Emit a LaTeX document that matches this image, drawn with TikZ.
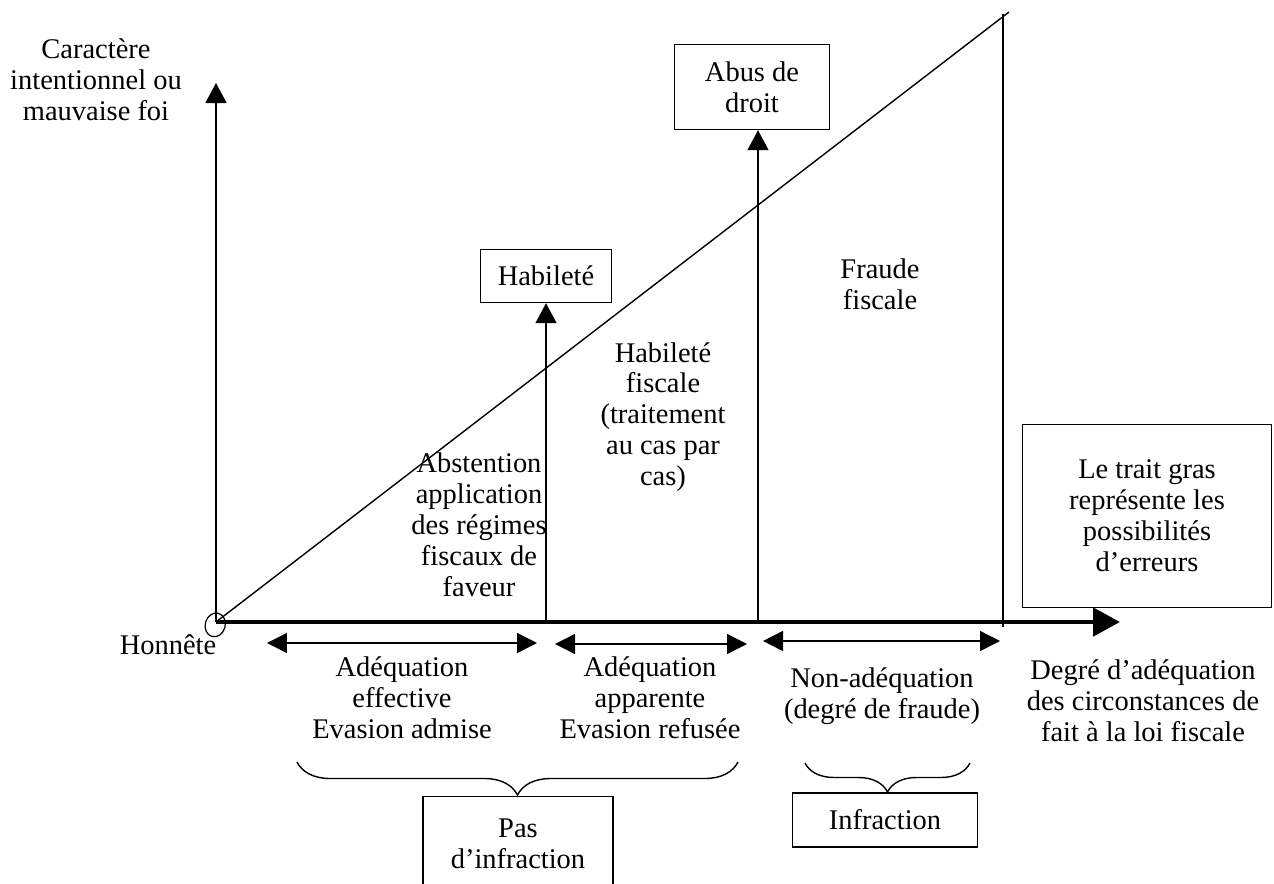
\documentclass[tikz,border=0pt]{standalone}
\usepackage{fontspec}
\setmainfont{Liberation Serif}
\usetikzlibrary{arrows.meta}
\usetikzlibrary{positioning}
\usetikzlibrary{decorations.pathreplacing}

\begin{document}
\begin{tikzpicture}[x=0.02cm, y=-0.02cm,
  font=\fontsize{16.2}{17.6}\selectfont,
  thinline/.style={line width=0.8pt},
  uparrow/.style={-{Triangle[length=0.4cm,width=0.42cm]}},
  twoway/.style={{Triangle[length=0.4cm,width=0.4cm]}-{Triangle[length=0.4cm,width=0.4cm]}},
  cadre/.style={draw, line width=0.8pt, align=center, inner sep=0pt},
  txt/.style={align=center, inner sep=0pt},
  accolade/.style={decorate, decoration={brace, amplitude=#1}, line width=0.8pt}]
  \useasboundingbox (0,0) rectangle (1274,883);
  \clip (0,0) rectangle (1274,883);

  % axes
  \coordinate (O) at (216,622);
  \coordinate (xend) at (1120,622);
  \coordinate (yend) at (216,83);
  \coordinate (diagtop) at (1009,12);
  \coordinate (limtop) at (1003,14);
  \coordinate (limbot) at (1003,627);
  \draw[line width=2.8pt, -{Triangle[length=0.54cm,width=0.56cm]}] (O) -- (xend);
  \draw[thinline, uparrow] (O) -- (yend);
  \draw[thinline] (O) -- (diagtop);
  \draw[thinline] (limbot) -- (limtop);
  \draw[line width=0.7pt, rotate around={-15:(O)}] (216,625) ellipse (10 and 12);

  % boxes
  \node[cadre, minimum width=2.62cm, minimum height=1.06cm] (habilete) at (546,276) {Habileté};
  \node[cadre, minimum width=3.1cm, minimum height=1.7cm] (abus) at (752,87) {Abus de\\droit};
  \node[cadre, minimum width=4.98cm, minimum height=3.66cm] (trait) at (1147,516) {Le trait gras\\représente les\\possibilités\\d’erreurs};
  \node[cadre, minimum width=3.8cm, minimum height=1.9cm] (pas) at (518,844) {Pas\\d’infraction};
  \node[cadre, minimum width=3.7cm, minimum height=1.08cm] (infraction) at (885,820) {Infraction};

  % vertical arrows
  \coordinate (a1) at (546,622);
  \coordinate (a2) at (758,622);
  \draw[thinline, uparrow] (a1) -- (habilete.south);
  \draw[thinline, uparrow] (a2) -- (a2 |- abus.south);

  % labels
  \node[txt] (caractere) at (96,80) {Caractère\\intentionnel ou\\mauvaise foi};
  \node[txt] (honnete) at (168,645) {Honnête};
  \node[txt] (abstention) at (479,525) {Abstention\\application\\des régimes\\fiscaux de\\faveur};
  \node[txt] (habfisc) at (663,417) {Habileté\\fiscale\\(traitement\\au cas par\\cas)};
  \node[txt] (fraude) at (880,284) {Fraude\\fiscale};
  \node[txt] (effective) at (402,698) {Adéquation\\effective\\Evasion admise};
  \node[txt] (apparente) at (650,698) {Adéquation\\apparente\\Evasion refusée};
  \node[txt] (nonadeq) at (882,696) {Non-adéquation\\(degré de fraude)};
  \node[txt] (degre) at (1143,701) {Degré d’adéquation\\des circonstances de\\fait à la loi fiscale};

  % double arrows
  \coordinate (e1) at (267,643);
  \coordinate (e2) at (537,643);
  \coordinate (p1) at (555,644);
  \coordinate (p2) at (747,644);
  \coordinate (n1) at (763,641);
  \coordinate (n2) at (1000,641);
  \draw[thinline, twoway] (e1) -- (e2);
  \draw[thinline, twoway] (p1) -- (p2);
  \draw[thinline, twoway] (n1) -- (n2);

  % braces
  \draw[accolade=0.66cm] (738,762) -- (297,762);
  \draw[accolade=0.58cm] (970,763) -- (805,763);
\end{tikzpicture}
\end{document}
